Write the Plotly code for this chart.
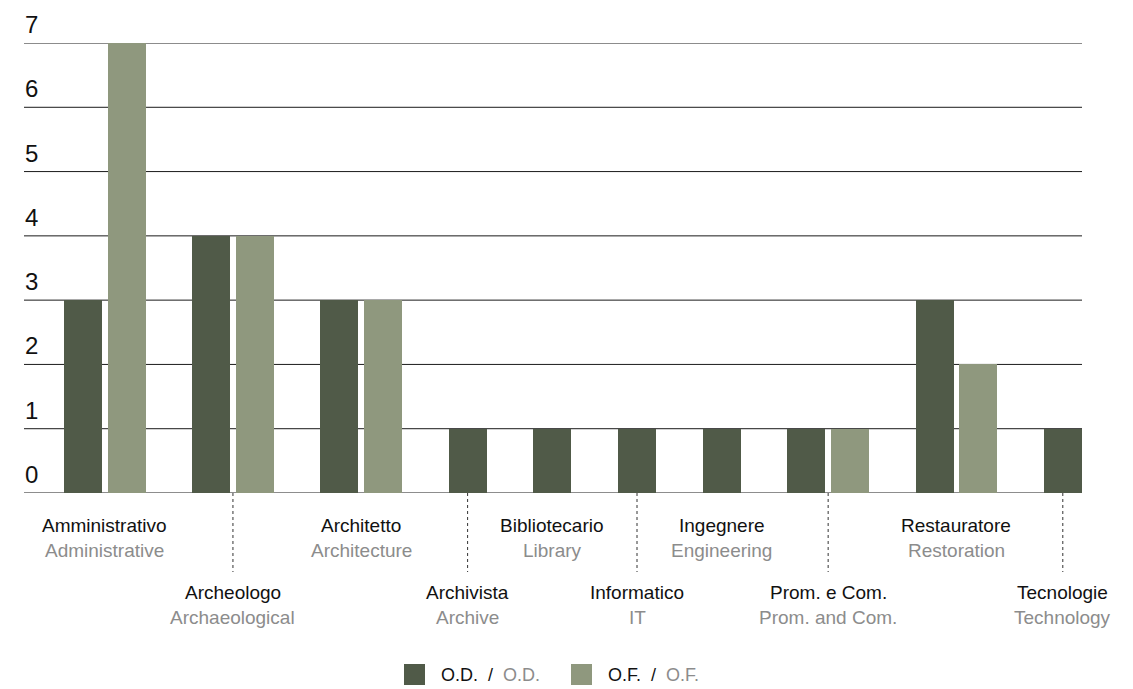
import plotly.graph_objects as go

# Job profiles (Italian name / English name) and staff counts per contract type
roles_it = ["Amministrativo", "Archeologo", "Architetto", "Archivista", "Bibliotecario",
            "Informatico", "Ingegnere", "Prom. e Com.", "Restauratore", "Tecnologie"]
roles_en = ["Administrative", "Archaeological", "Architecture", "Archive", "Library",
            "IT", "Engineering", "Prom. and Com.", "Restoration", "Technology"]
od_counts = [3, 4, 3, 1, 1, 1, 1, 1, 3, 1]
of_counts = [7, 4, 3, 0, 0, 0, 0, 1, 2, 0]
y_ticks = [0, 1, 2, 3, 4, 5, 6, 7]

DARK = "#505a48"
LIGHT = "#8f987e"
INK = "#111111"
GREY = "#8c8c8c"
GRID = "#1a1a1a"
FONT = "Liberation Sans, Arial, sans-serif"

# Layout of the groups along a pixel-like x scale: groups only take room for the bars they have
BAR_W = 38
INNER = 5.5
GAP = 46.7
X_START = 40
PLOT_W = 1058
PLOT_H = 450
M_L, M_T = 24, 43
Y_MAX = 7

od_x, od_y, of_x, of_y, centers = [], [], [], [], []
cursor = X_START
for od, of in zip(od_counts, of_counts):
    bars = [(od, "od"), (of, "of")]
    bars = [b for b in bars if b[0] > 0]
    start = cursor
    for i, (val, kind) in enumerate(bars):
        cx = cursor + BAR_W / 2
        if kind == "od":
            od_x.append(cx); od_y.append(val)
        else:
            of_x.append(cx); of_y.append(val)
        cursor += BAR_W
        if i < len(bars) - 1:
            cursor += INNER
    centers.append((start + cursor) / 2)
    cursor += GAP

fig = go.Figure()
fig.add_trace(go.Bar(x=od_x, y=od_y, width=BAR_W, marker_color=DARK, marker_line_width=0,
                     name="O.D.", showlegend=False))
fig.add_trace(go.Bar(x=of_x, y=of_y, width=BAR_W, marker_color=LIGHT, marker_line_width=0,
                     name="O.F.", showlegend=False))

annotations = []
shapes = []

# Horizontal rules with their value written just above, at the left edge
for v in y_ticks:
    shapes.append(dict(type="line", xref="paper", yref="y", x0=0, x1=1, y0=v, y1=v,
                       layer="below", line=dict(color=GRID, width=1)))
    annotations.append(dict(x=0, y=v, xref="paper", yref="y", yshift=3, xshift=-1,
                            text=str(v), showarrow=False, xanchor="left", yanchor="bottom",
                            font=dict(size=24, color=INK, family=FONT)))

for i, (it, en, cx) in enumerate(zip(roles_it, roles_en, centers)):
    low = i % 2 == 1
    y_it = -32 - (67 if low else 0)
    y_en = y_it - 25
    annotations.append(dict(x=cx, y=0, xref="x", yref="paper", yshift=y_it, text=it,
                            showarrow=False, xanchor="center", yanchor="middle",
                            font=dict(size=19, color=INK, family=FONT)))
    annotations.append(dict(x=cx, y=0, xref="x", yref="paper", yshift=y_en, text=en,
                            showarrow=False, xanchor="center", yanchor="middle",
                            font=dict(size=19, color=GREY, family=FONT)))
    if low:
        shapes.append(dict(type="line", xref="x", yref="paper", x0=cx, x1=cx,
                           y0=0, y1=-79 / PLOT_H,
                           line=dict(color="#333333", width=1, dash="dot")))

# Legend drawn below the plot
def px_x(px):
    return (px - M_L) / PLOT_W

def px_y(py):
    return (M_T + PLOT_H - py) / PLOT_H

legend_items = [("O.D.", DARK, 404), ("O.F.", LIGHT, 571)]
for name, color, left in legend_items:
    shapes.append(dict(type="rect", xref="paper", yref="paper",
                       x0=px_x(left), x1=px_x(left + 21), y0=px_y(685), y1=px_y(664),
                       fillcolor=color, line=dict(width=0)))
    annotations.append(dict(x=px_x(left + 35), y=px_y(675), xref="paper", yref="paper",
                            text=f"{name}&nbsp;&nbsp;/&nbsp;&nbsp;<span style='color:{GREY}'>{name}</span>",
                            showarrow=False, xanchor="left", yanchor="middle",
                            font=dict(size=18, color=INK, family=FONT)))

fig.update_layout(
    width=1133, height=689,
    margin=dict(l=M_L, r=1133 - M_L - PLOT_W, t=M_T, b=689 - M_T - PLOT_H, pad=0),
    paper_bgcolor="white", plot_bgcolor="white",
    bargap=0, barmode="overlay",
    font=dict(family=FONT, color=INK),
    xaxis=dict(range=[0, PLOT_W], showgrid=False, zeroline=False, showticklabels=False,
               showline=False, ticks=""),
    yaxis=dict(range=[0, Y_MAX], showgrid=False, zeroline=False, showline=False,
               ticks="", showticklabels=False),
    annotations=annotations,
    shapes=shapes,
)

fig.write_html("out.html")
